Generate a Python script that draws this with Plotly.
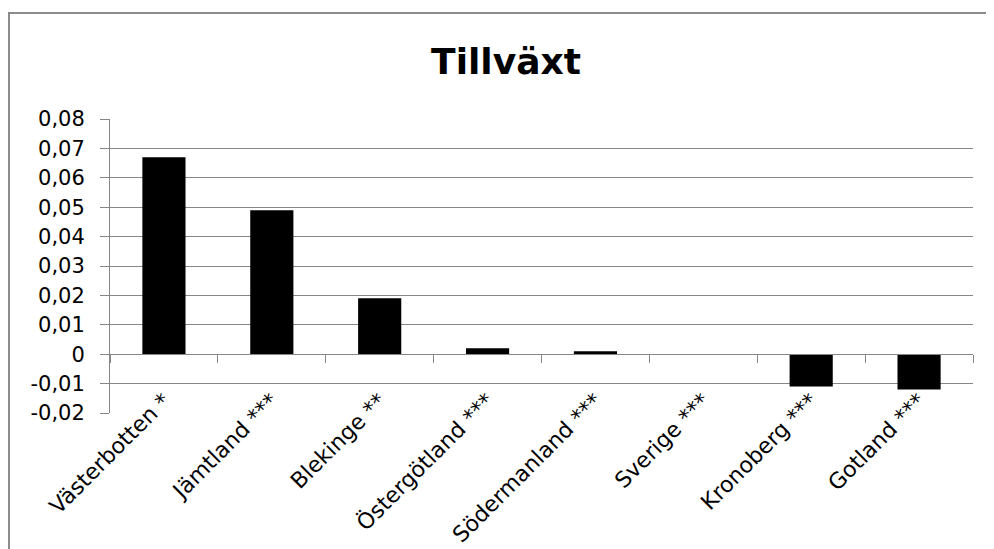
import plotly.graph_objects as go

categories = ["Västerbotten *", "Jämtland ***", "Blekinge **", "Östergötland ***",
              "Södermanland ***", "Sverige ***", "Kronoberg ***", "Gotland ***"]
values = [0.067, 0.049, 0.019, 0.002, 0.001, 0.0, -0.011, -0.012]
y_tickvals = [-0.02, -0.01, 0, 0.01, 0.02, 0.03, 0.04, 0.05, 0.06, 0.07, 0.08]
y_ticktext = ["-0,02", "-0,01", "0", "0,01", "0,02", "0,03", "0,04", "0,05", "0,06", "0,07", "0,08"]
title_text = "Tillväxt"

OFF = 8  # browser default body margin
W, H = 994 - OFF, 549 - OFF
L, R, T, B = 110 - OFF, 21, 119 - OFF, 136
plot_w = W - L - R
plot_h = H - T - B
GRAY = "#868686"
FONT = "DejaVu Sans"

fig = go.Figure(go.Bar(
    x=categories, y=values,
    marker=dict(color="black", line=dict(width=0)),
    hoverinfo="skip",
))

ymin, ymax = y_tickvals[0], y_tickvals[-1]
zero_pos = (0 - ymin) / (ymax - ymin)

fig.update_layout(
    width=W, height=H,
    margin=dict(l=L, r=R, t=T, b=B, autoexpand=False),
    paper_bgcolor="white", plot_bgcolor="white",
    bargap=0.6,
    showlegend=False,
    font=dict(family=FONT, size=21, color="black"),
    title=dict(text="<b>" + title_text + "</b>", x=(506 - OFF) / W, xref="container",
               y=1 - (61 - OFF) / H, yref="container", xanchor="center", yanchor="middle",
               font=dict(family=FONT, size=36, color="black")),
    xaxis=dict(
        anchor="free", position=zero_pos,
        showline=True, linecolor=GRAY, linewidth=1,
        ticks="outside", tickson="boundaries", ticklen=8, tickcolor=GRAY, tickwidth=1,
        tickangle=-45, ticklabelstandoff=24,
        showgrid=False, zeroline=False, automargin=False,
        tickfont=dict(family=FONT, size=22, color="black"),
    ),
    yaxis=dict(
        range=[ymin, ymax], tickvals=y_tickvals, ticktext=y_ticktext,
        showline=True, linecolor=GRAY, linewidth=1,
        ticks="outside", ticklen=9, tickcolor=GRAY, tickwidth=1,
        ticklabelstandoff=11,
        showgrid=True, gridcolor=GRAY, gridwidth=1,
        zeroline=False, automargin=False,
        tickfont=dict(family=FONT, size=21, color="black"),
    ),
    shapes=[dict(
        type="rect", xref="paper", yref="paper",
        x0=(9 - OFF - L) / plot_w, x1=(W + 20 - L) / plot_w,
        y0=-(B + 20) / plot_h, y1=(H - B - (13 - OFF)) / plot_h,
        line=dict(color="#8c8c8c", width=2), fillcolor="rgba(0,0,0,0)", layer="below",
    )],
)

fig.write_html("out.html")
